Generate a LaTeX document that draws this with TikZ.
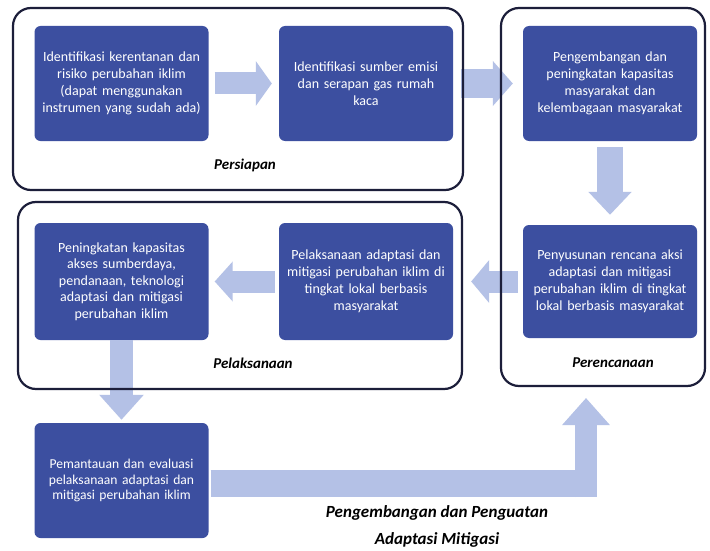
\documentclass[tikz,border=0pt]{standalone}
\usepackage{fontspec}
\setmainfont{Carlito}
\usetikzlibrary{arrows.meta,calc}
\definecolor{boxblue}{RGB}{60,79,160}
\definecolor{arrowblue}{RGB}{180,193,230}
\definecolor{framec}{RGB}{28,30,58}
\tikzset{
  bluebox/.style={fill=boxblue, rounded corners=6pt, text=white, align=center,
    minimum width=171pt, minimum height=115pt, inner sep=3pt, text width=168pt,
    font=\fontsize{14}{17}\selectfont},
  barrow/.style={draw=arrowblue, line width=22pt, line cap=butt,
    -{Triangle[length=17pt,width=43pt]}},
  framebox/.style={draw=framec, line width=2.2pt, rounded corners=18pt},
  phase/.style={font=\fontsize{15}{17}\selectfont\bfseries\itshape, text=black},
  bottomlabel/.style={font=\fontsize{17}{19}\selectfont\bfseries\itshape, text=black}
}
\begin{document}
\begin{tikzpicture}[x=1pt,y=-1pt]
\useasboundingbox (0,0) rectangle (710,551);
\fill[white] (0,0) rectangle (710,551);

% blue boxes
\node[bluebox] (b1) at (121.5,83.5) {Identifikasi kerentanan dan\\risiko perubahan iklim\\(dapat menggunakan\\instrumen yang sudah ada)};
\node[bluebox, minimum width=172pt] (b2) at (366,83.5) {Identifikasi sumber emisi\\dan serapan gas rumah\\kaca};
\node[bluebox, minimum width=170pt] (b3) at (610,83.5) {Pengembangan dan\\peningkatan kapasitas\\masyarakat dan\\kelembagaan masyarakat};
\node[bluebox, minimum width=170pt, minimum height=113pt] (b4) at (610,281.5) {Penyusunan rencana aksi\\adaptasi dan mitigasi\\perubahan iklim di tingkat\\lokal berbasis masyarakat};
\node[bluebox, minimum height=117pt, font=\fontsize{14}{16.5}\selectfont] (b5) at (121.5,281.5) {Peningkatan kapasitas\\akses sumberdaya,\\pendanaan, teknologi\\adaptasi dan mitigasi\\perubahan iklim};
\node[bluebox, minimum width=172pt, minimum height=117pt] (b6) at (366,281.5) {Pelaksanaan adaptasi dan\\mitigasi perubahan iklim di\\tingkat lokal berbasis\\masyarakat};
\node[bluebox, font=\fontsize{13.6}{15.5}\selectfont] (b7) at (121.5,480.5) {Pemantauan dan evaluasi\\pelaksanaan adaptasi dan\\mitigasi perubahan iklim};

% block arrows
\draw[barrow, -{Triangle[length=16pt,width=44pt]}] ([xshift=6pt]b1.east) -- ([xshift=-7pt]b2.west);
\draw[barrow, line width=29pt, -{Triangle[length=20pt,width=44pt]}] ([xshift=8pt]b2.east) -- ([xshift=-10pt]b3.west);
\draw[barrow, line width=26pt, -{Triangle[length=23pt,width=42pt]}] ([yshift=-6pt]b3.south) -- ([yshift=10pt]b4.north);
\draw[barrow, -{Triangle[length=18pt,width=42pt]}] ([xshift=-5pt]b4.west) -- ([xshift=18pt]b6.east);
\draw[barrow, -{Triangle[length=18pt,width=39pt]}] ([xshift=-4pt]b6.west) -- ([xshift=6pt]b5.east);
\draw[barrow, line width=23pt, -{Triangle[length=25pt,width=43pt]}] (b5.south) -- ([yshift=3pt]b7.north);
\coordinate (corner) at (597,483.5);
\coordinate (upfoot) at (586,497);
\coordinate (uptip) at (586,398);
\draw[draw=arrowblue, line width=27pt, line cap=butt] ([xshift=2pt]b7.east |- corner) -- (corner);
\draw[barrow, -{Triangle[length=27pt,width=46pt]}] (upfoot) -- (uptip);

% phase frames
\node[framebox, minimum width=450pt, minimum height=182pt] (pers) at (238,99) {};
\node[framebox, minimum width=444pt, minimum height=187pt] (pela) at (240,295.5) {};
\node[framebox, minimum width=204pt, minimum height=378pt] (pere) at (603,197) {};

% labels
\node[phase] (lpers) at (245,165) {Persiapan};
\node[phase] (lpela) at (253,363) {Pelaksanaan};
\node[phase] (lpere) at (613,363) {Perencanaan};
\node[bottomlabel] (lb1) at (437,513) {Pengembangan dan Penguatan};
\node[bottomlabel] (lb2) at (437,540) {Adaptasi Mitigasi};
\end{tikzpicture}
\end{document}
